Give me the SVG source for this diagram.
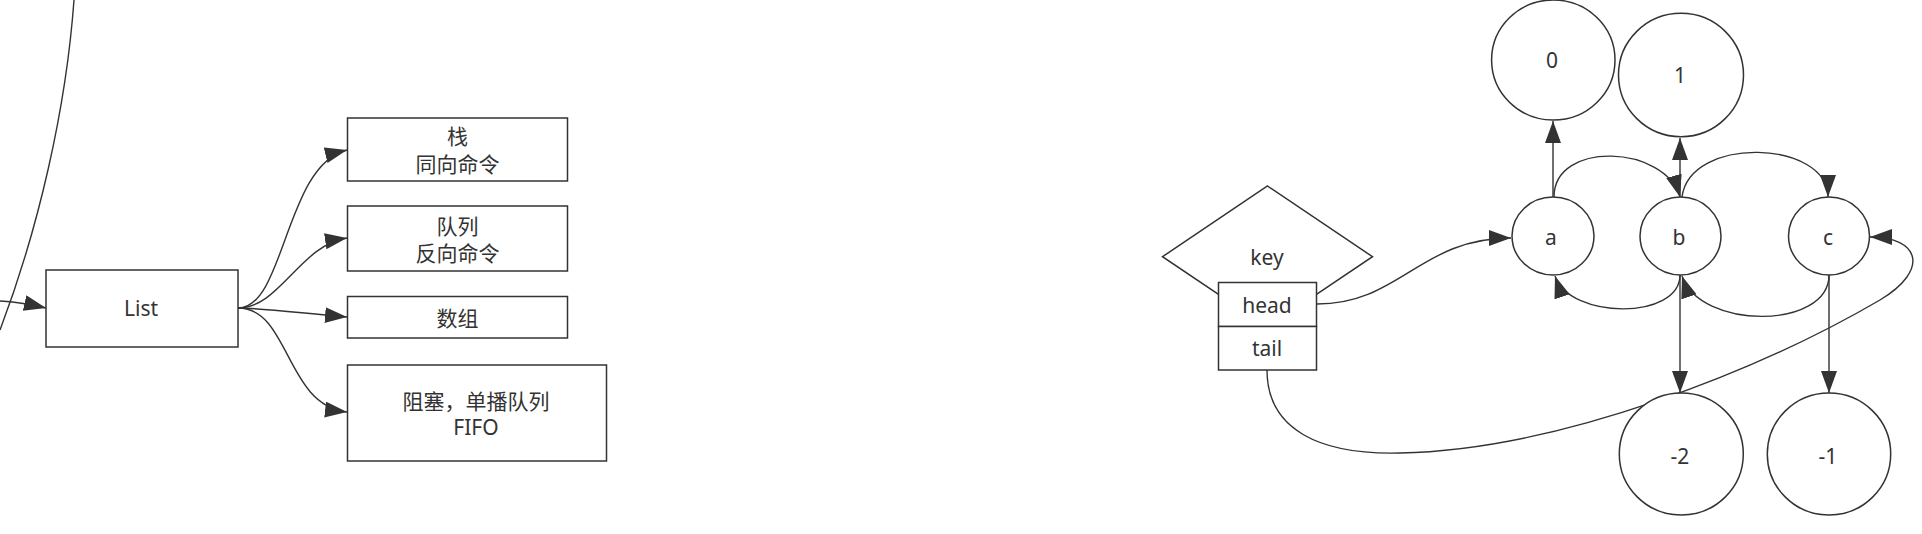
<svg xmlns="http://www.w3.org/2000/svg" width="1922" height="534" viewBox="0 0 1922 534">
<style>
.n{fill:#fff;stroke:#333;stroke-width:1.5}
.e{fill:none;stroke:#333;stroke-width:1.4}
.t{font-family:"Noto Sans","Noto Sans CJK SC",sans-serif;font-size:21px;fill:#333;text-anchor:middle}
</style>
<defs>
<marker id="ah" markerUnits="userSpaceOnUse" markerWidth="26" markerHeight="18" refX="22" refY="8" orient="auto">
<path d="M0,0 L22,8 L0,16 z" fill="#333"/>
</marker>
</defs>
<rect width="1922" height="534" fill="#fff"/>
<g id="connectors">
<path class="e" d="M74,0 C66,110 38,230 0,330"/>
<path class="e" d="M0,301 Q20,302 46,308" marker-end="url(#ah)"/>
<path class="e" d="M238,308 C285,308 285,165 347,150" marker-end="url(#ah)"/>
<path class="e" d="M238,308 C280,308 300,245 347,238" marker-end="url(#ah)"/>
<path class="e" d="M238,308 C260,308 300,313 347,317" marker-end="url(#ah)"/>
<path class="e" d="M238,308 C290,308 285,405 347,412" marker-end="url(#ah)"/>
<path class="e" d="M1317,304 C1400,304 1420,238 1511,238" marker-end="url(#ah)"/>
<path class="e" d="M1267,370 C1267,430 1320,455 1400,453 C1560,450 1760,370 1880,300 C1930,270 1920,237 1870,237" marker-end="url(#ah)"/>
<path class="e" d="M1553,197 L1553,121" marker-end="url(#ah)"/>
<path class="e" d="M1680,197 L1680,138" marker-end="url(#ah)"/>
<path class="e" d="M1554,197 C1554,140 1665,145 1680,197" marker-end="url(#ah)"/>
<path class="e" d="M1682,197 C1690,135 1828,140 1828,197" marker-end="url(#ah)"/>
<path class="e" d="M1680,275 C1680,320 1570,320 1555,276" marker-end="url(#ah)"/>
<path class="e" d="M1829,275 C1829,330 1700,330 1682,276" marker-end="url(#ah)"/>
<path class="e" d="M1680,275 L1680,393" marker-end="url(#ah)"/>
<path class="e" d="M1829,275 L1829,393" marker-end="url(#ah)"/>
</g>
<g id="node-list">
<rect class="n" x="46" y="270" width="192" height="77"/>
<text class="t" x="141" y="316">List</text>
</g>
<g id="node-stack">
<rect class="n" x="347.5" y="118" width="220" height="63"/>
<text class="t" x="457.5" y="144">栈</text>
<text class="t" x="457.5" y="172">同向命令</text>
</g>
<g id="node-queue">
<rect class="n" x="347.5" y="206" width="220" height="65"/>
<text class="t" x="457.5" y="234">队列</text>
<text class="t" x="457.5" y="261">反向命令</text>
</g>
<g id="node-array">
<rect class="n" x="347.5" y="296.5" width="220" height="41.5"/>
<text class="t" x="457.5" y="326">数组</text>
</g>
<g id="node-block">
<rect class="n" x="347.5" y="365" width="259" height="96"/>
<text class="t" x="476" y="409">阻塞，单播队列</text>
<text class="t" x="476" y="435">FIFO</text>
</g>
<g id="node-key">
<polygon class="n" points="1267.5,186 1372.5,256.7 1267.5,327.3 1162.5,256.7"/>
<text class="t" x="1267" y="265">key</text>
</g>
<g id="node-head">
<rect class="n" x="1218.5" y="282.5" width="98" height="44"/>
<text class="t" x="1267" y="313">head</text>
</g>
<g id="node-tail">
<rect class="n" x="1218.5" y="326.5" width="98" height="43.5"/>
<text class="t" x="1267" y="356">tail</text>
</g>
<g id="node-0">
<ellipse class="n" cx="1553.3" cy="60" rx="61.7" ry="60"/>
<text class="t" x="1552" y="68">0</text>
</g>
<g id="node-1">
<ellipse class="n" cx="1681" cy="75" rx="62.5" ry="61.7"/>
<text class="t" x="1680" y="83">1</text>
</g>
<g id="node-a">
<ellipse class="n" cx="1553" cy="236" rx="41" ry="39"/>
<text class="t" x="1551" y="245">a</text>
</g>
<g id="node-b">
<ellipse class="n" cx="1680.5" cy="236" rx="40.5" ry="39"/>
<text class="t" x="1679" y="245">b</text>
</g>
<g id="node-c">
<ellipse class="n" cx="1829" cy="236" rx="40.5" ry="39"/>
<text class="t" x="1828" y="245">c</text>
</g>
<g id="node-m2">
<ellipse class="n" cx="1681.3" cy="454" rx="62" ry="61"/>
<text class="t" x="1680" y="464">-2</text>
</g>
<g id="node-m1">
<ellipse class="n" cx="1829" cy="454" rx="61.7" ry="61"/>
<text class="t" x="1828" y="464">-1</text>
</g>
</svg>
